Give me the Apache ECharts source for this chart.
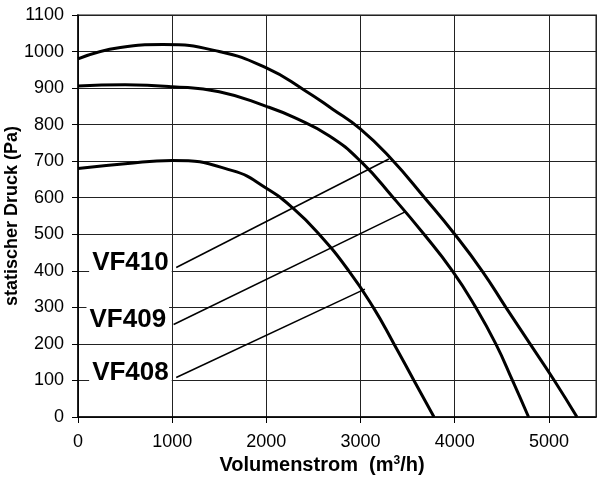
<!DOCTYPE html>
<html>
<head>
<meta charset="utf-8">
<script src="https://cdn.jsdelivr.net/npm/echarts@6/dist/echarts.min.js"></script>
<style>
  html, body { margin: 0; padding: 0; background: #fff; }
  #main { width: 597px; height: 481px; }
</style>
</head>
<body>
<div id="main"></div>
<script>
// fan curves
var vf410Flow = [0, 450, 900, 1500, 2000, 2400, 2700, 3000, 3320, 3680, 4000, 4290, 4543, 4800, 5057, 5298];
var vf410Press = [980, 1011, 1019, 1000, 955, 895, 843, 788, 708, 600, 500, 400, 300, 200, 100, 0];

var vf409Flow = [0, 500, 1000, 1500, 2000, 2300, 2670, 3000, 3348, 3674, 3975, 4223, 4436, 4613, 4784];
var vf409Press = [906, 909, 904, 890, 850, 819, 769, 700, 600, 500, 400, 300, 200, 100, 0];

var vf408Flow = [0, 500, 1000, 1640, 2000, 2280, 2560, 2875, 3135, 3355, 3567, 3780];
var vf408Press = [680, 693, 702, 674, 626, 572, 500, 400, 300, 200, 100, 0];

// leader lines for the type labels
var labelNames = ['VF410', 'VF409', 'VF408'];
var leaderStart = [[1043, 409], [1015, 253], [1043, 108]];
var leaderEnd = [[3301, 706], [3479, 562], [3046, 350]];

var xTicks = [0, 1000, 2000, 3000, 4000, 5000];

function pairs(xs, ys) {
  var out = [];
  for (var i = 0; i < xs.length; i++) out.push([xs[i], ys[i]]);
  return out;
}

var font = '"Liberation Sans", Arial, sans-serif';

var series = [];
[[vf410Flow, vf410Press], [vf409Flow, vf409Press], [vf408Flow, vf408Press]].forEach(function (c, i) {
  series.push({
    name: labelNames[i],
    type: 'line',
    smooth: 0.5,
    showSymbol: false,
    symbol: 'none',
    lineStyle: { color: '#000', width: 3 },
    data: pairs(c[0], c[1]),
    z: 3
  });
});

labelNames.forEach(function (nm, i) {
  series.push({
    type: 'line',
    symbol: 'circle',
    symbolSize: 1,
    showSymbol: true,
    itemStyle: { color: 'rgba(0,0,0,0)' },
    lineStyle: { color: '#000', width: 1.5 },
    data: [
      {
        value: leaderStart[i],
        label: {
          show: true,
          position: 'left',
          formatter: nm,
          distance: 4,
          offset: [0, -5],
          fontFamily: font,
          fontWeight: 'bold',
          fontSize: 26,
          color: '#000',
          backgroundColor: '#fff',
          padding: [1, 3, 1, 3]
        }
      },
      { value: leaderEnd[i], label: { show: false } }
    ],
    z: 4
  });
});

var chart = echarts.init(document.getElementById('main'));
chart.setOption({
  animation: false,
  backgroundColor: '#fff',
  grid: {
    left: 78, right: 1, top: 15, bottom: 64,
    outerBoundsMode: 'none',
    containLabel: false,
    show: true, borderColor: '#888', borderWidth: 2
  },
  xAxis: {
    type: 'value',
    min: 0, max: 5500, interval: 1000,
    name: '{b|Volumenstrom  (m}{s|3}{b|/h)}',
    nameLocation: 'middle',
    nameGap: 38,
    nameMoveOverlap: false,
    nameTextStyle: {
      padding: [0, 30, 0, 0],
      rich: {
        b: { fontFamily: font, fontWeight: 'bold', fontSize: 20, color: '#000' },
        s: { fontFamily: font, fontWeight: 'bold', fontSize: 12, color: '#000', verticalAlign: 'top', padding: [0, 0, 9, 0] }
      }
    },
    axisLine: { show: true, onZero: false, lineStyle: { color: '#000', width: 1.5 } },
    axisTick: { show: true, inside: false, length: 6, lineStyle: { color: '#000' } },
    axisLabel: {
      showMaxLabel: false,
      margin: 16,
      fontFamily: font, fontSize: 18, color: '#000',
      formatter: function (v) { return xTicks.indexOf(v) >= 0 ? String(v) : ''; }
    },
    splitLine: { show: true, lineStyle: { color: '#222', width: 1 } }
  },
  yAxis: {
    type: 'value',
    min: 0, max: 1100, interval: 100,
    name: 'statischer Druck (Pa)',
    nameLocation: 'middle',
    nameRotate: 90,
    nameGap: 57,
    nameMoveOverlap: false,
    nameTextStyle: { fontFamily: font, fontWeight: 'bold', fontSize: 18, color: '#000' },
    axisLine: { show: true, lineStyle: { color: '#000', width: 1.5 } },
    axisTick: { show: true, inside: false, length: 6, lineStyle: { color: '#000' } },
    axisLabel: {
      margin: 14, fontFamily: font, fontSize: 18, color: '#000',
      formatter: function (v) { return String(v); }
    },
    splitLine: { show: true, lineStyle: { color: '#222', width: 1 } }
  },
  series: series
});
</script>
</body>
</html>
